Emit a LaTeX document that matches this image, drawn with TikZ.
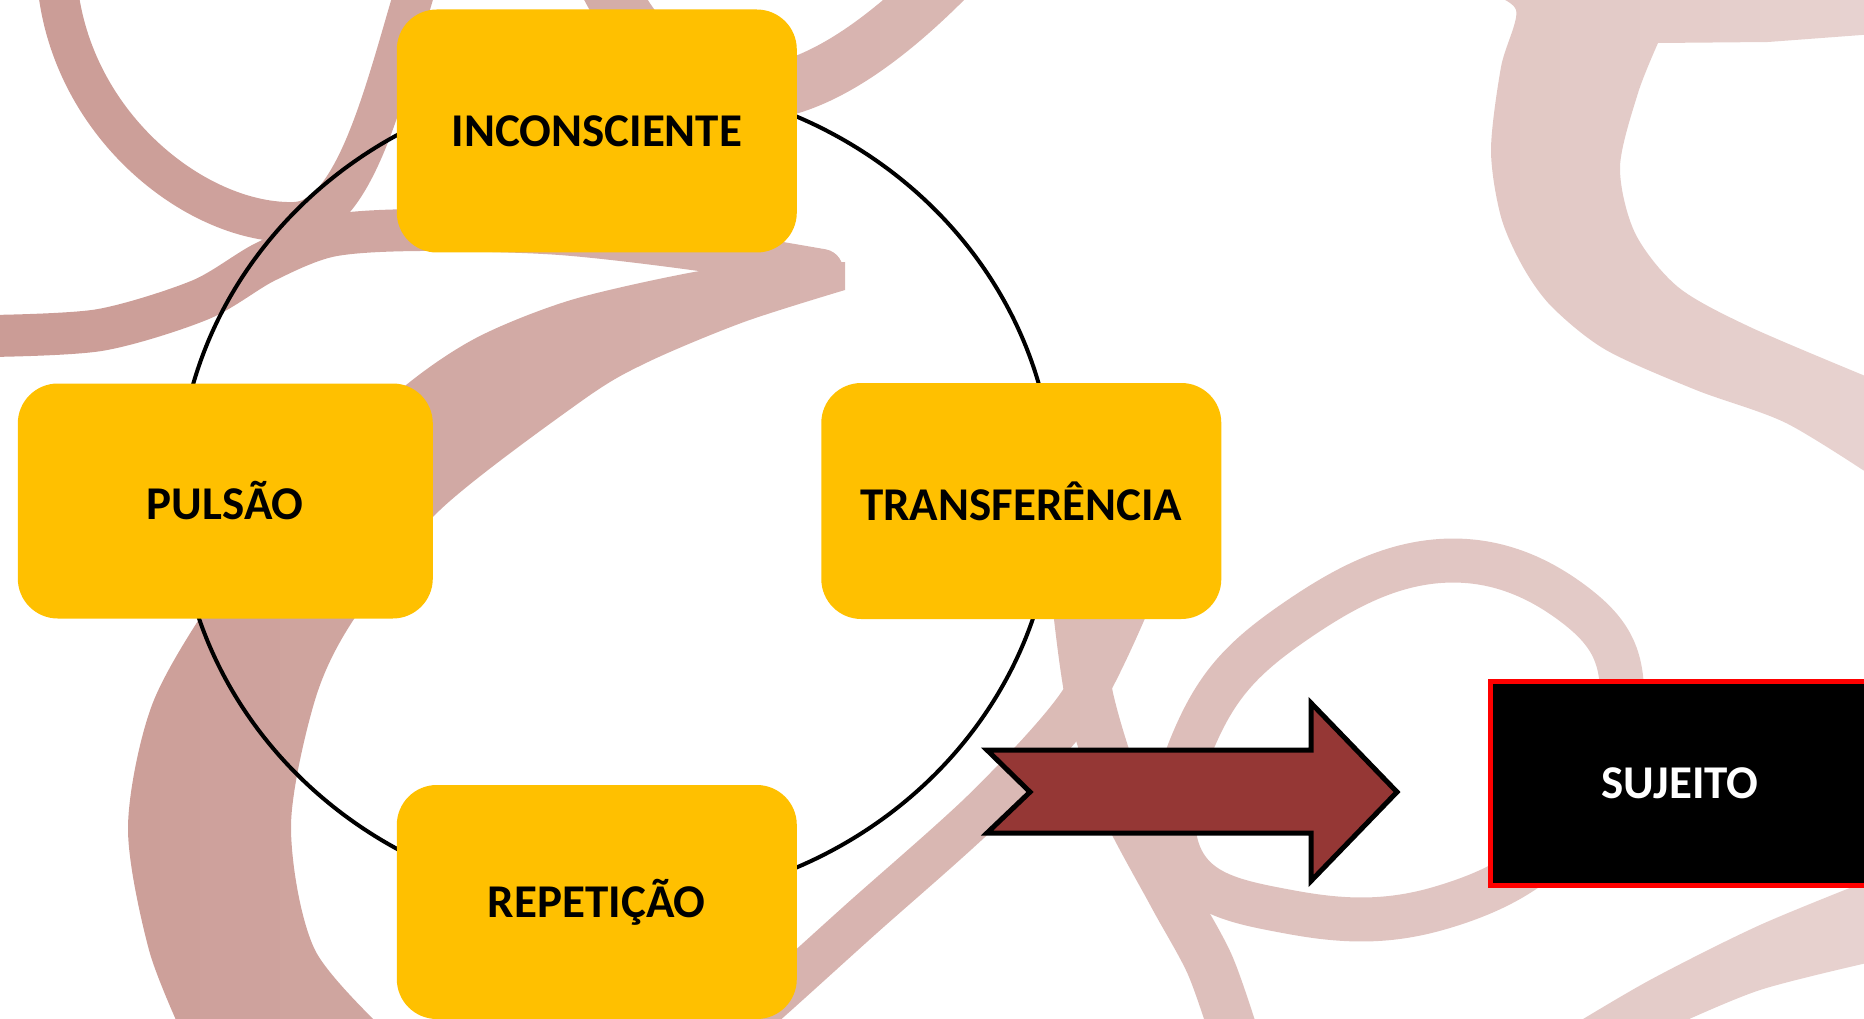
\documentclass[tikz,border=0pt]{standalone}
\usepackage{fontspec}
\setmainfont{Carlito}
\usetikzlibrary{positioning}
\definecolor{boxyellow}{HTML}{FFC000}
\definecolor{arrowred}{HTML}{953735}
\definecolor{swirl}{HTML}{CB9C96}

\begin{document}
\begin{tikzpicture}[x=1pt,y=-1pt,every node/.style={inner sep=0pt,font=\fontsize{47}{52}\selectfont\bfseries},concept/.style={rectangle,rounded corners=40pt,fill=boxyellow,minimum width=400pt,minimum height=243pt},swirlband/.style={draw=swirl,line width=#1},blockarrow/.style={draw=black,line width=5pt,fill=arrowred,line join=miter}]
	\useasboundingbox (0,0) rectangle (1864,1019);
	% swirls in the background
	\draw[swirlband=40pt] (58,-10) .. controls (75,130) and (200,225) .. (295,222) .. controls (355,220) and (385,90) .. (415,-10);
	\draw[swirlband=42pt,line cap=round] plot[smooth] coordinates {(-10,336) (100,330) (200,300) (265,262) (330,236) (420,230) (560,234) (700,250) (822,270)};
	\fill[swirl] plot[smooth] coordinates {(845,262) (760,266) (694,272) (571,300) (476,338) (400,390) (300,485) (215,595) (152,705) (128,827) (149,950) (185,1040)} -- plot[smooth] coordinates {(395,1040) (315,950) (291,827) (315,700) (354,619) (440,510) (583,400) (648,362) (744,322) (845,290)} -- cycle;
	\draw[swirlband=55pt] (955,-30) .. controls (800,130) and (680,140) .. (600,-30);
	\fill[swirl] plot[smooth] coordinates {(1480,-10) (1516,10) (1501,67) (1491,150) (1501,217) (1523,267) (1552,307) (1606,350) (1696,390) (1786,423) (1875,478)} -- plot[smooth] coordinates {(1875,380) (1750,327) (1678,287) (1635,233) (1620,167) (1638,93) (1658,43)} -- (1768,42) -- (1875,34) -- (1875,-10) -- cycle;
	\draw[swirlband=48pt] plot[smooth] coordinates {(1076,600) (1090,700) (1122,800) (1172,895) (1210,965) (1236,1040)};
	\draw[swirlband=42pt] plot[smooth] coordinates {(1130,600) (1078,705) (985,808) (860,920) (760,1010) (700,1060)};
	\draw[swirlband=44pt] plot[smooth cycle,tension=0.7] coordinates {(1182,860) (1198,730) (1290,625) (1440,561) (1575,605) (1622,700) (1570,830) (1440,908) (1290,912)};
	\fill[swirl] plot[smooth] coordinates {(1880,876) (1760,925) (1650,980) (1565,1030)} -- plot[smooth] coordinates {(1665,1030) (1760,990) (1880,960)} -- cycle;
	\foreach \i in {0,...,46} {
		\pgfmathsetmacro\fadeop{\i*0.012}
		\fill[white,opacity=\fadeop] (\i*40,0) rectangle ++(40,1019);
	}
	% the cycle
	\coordinate (hub) at (616,492);
	\draw[line width=4pt] (hub) ellipse [x radius=438pt,y radius=412pt];
	\node[concept] (inconsciente) at (596.8,131) {INCONSCIENTE};
	\node[concept,minimum width=415pt,minimum height=235pt] (pulsao) at (225.3,501) {PULSÃO};
	\node[concept,minimum height=236pt] (transferencia) at (1021.3,501) {TRANSFERÊNCIA};
	\node[concept,minimum height=234pt] (repeticao) at (596.8,902) {REPETIÇÃO};
	% result
	\node[fill=black,draw=red,line width=5pt,minimum width=380pt,minimum height=204pt,text=white] (sujeito) at (1680,783.5) {SUJEITO};
	\draw[blockarrow] (987,750) -- (1311,750) -- (1311,703) -- (1397,792) -- (1311,881) -- (1311,833) -- (987,833) -- (1030,792) -- cycle;
\end{tikzpicture}
\end{document}
